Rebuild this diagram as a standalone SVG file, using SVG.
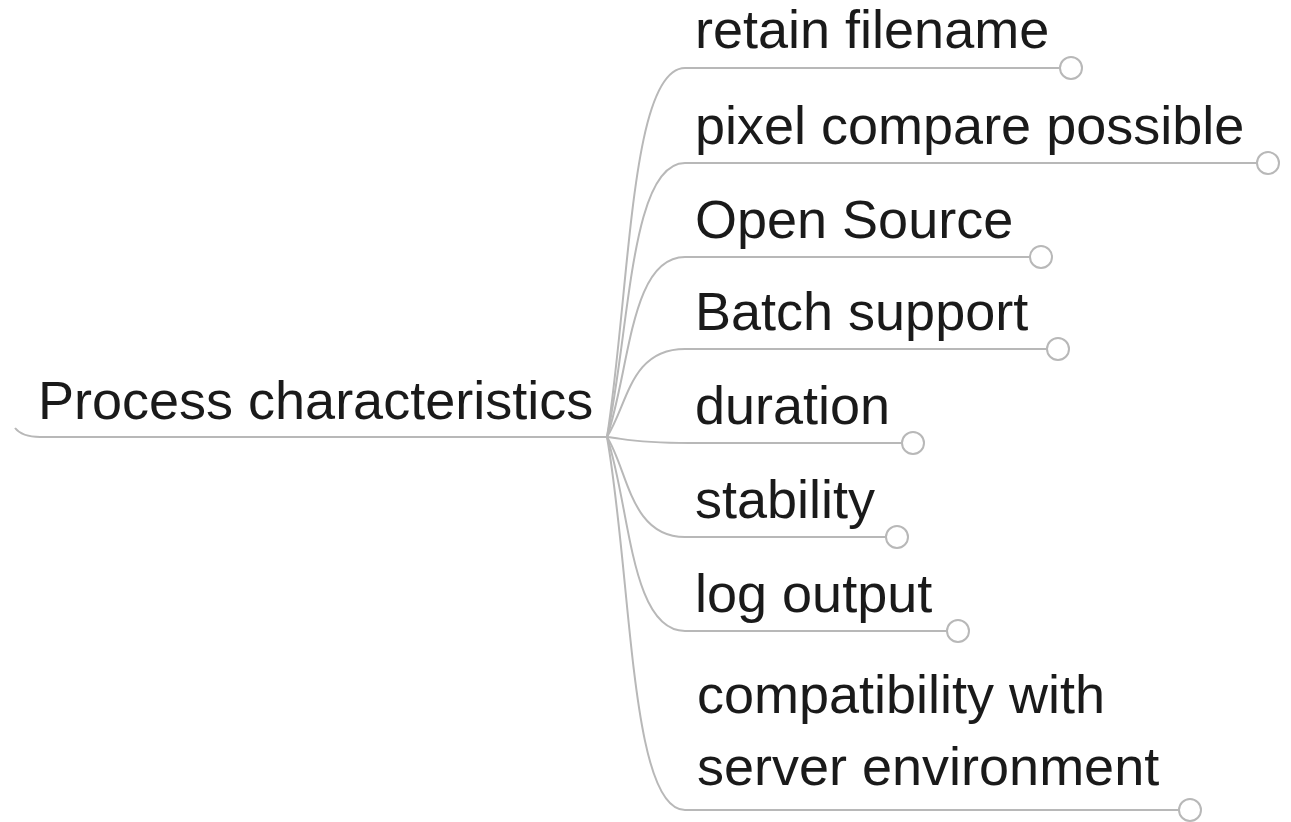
<svg xmlns="http://www.w3.org/2000/svg" width="1291" height="822" viewBox="0 0 1291 822">
<style>
  .t { font-family: "Liberation Sans", Arial, sans-serif; font-size: 54px; fill: #1a1a1a; }
  .c { fill: none; stroke: #b8b8b8; stroke-width: 2; }
  .k { fill: #fff; stroke: #b8b8b8; stroke-width: 2; }
</style>
<rect width="1291" height="822" fill="#fff"/>
<g id="connectors">
  <path class="c" d="M15,428 Q22,437 40,437 L607,437"/>
  <path class="c" d="M607,437 C630,290 630,68 685,68 L1060,68"/>
  <path class="c" d="M607,437 C630,330 630,163 685,163 L1257,163"/>
  <path class="c" d="M607,437 C630,370 630,257 685,257 L1030,257"/>
  <path class="c" d="M607,437 C628,404 630,349 685,349 L1047,349"/>
  <path class="c" d="M607,437 C627,439 632,443 690,443 L902,443"/>
  <path class="c" d="M607,437 C628,470 630,537 685,537 L886,537"/>
  <path class="c" d="M607,437 C630,505 630,631 685,631 L947,631"/>
  <path class="c" d="M607,437 C632,580 630,810 685,810 L1179,810"/>
</g>
<g id="root"><text class="t" x="38" y="419">Process characteristics</text></g>
<g id="n1"><text class="t" x="695" y="48">retain filename</text><circle class="k" cx="1071" cy="68" r="11"/></g>
<g id="n2"><text class="t" x="695" y="144">pixel compare possible</text><circle class="k" cx="1268" cy="163" r="11"/></g>
<g id="n3"><text class="t" x="695" y="238">Open Source</text><circle class="k" cx="1041" cy="257" r="11"/></g>
<g id="n4"><text class="t" x="695" y="330">Batch support</text><circle class="k" cx="1058" cy="349" r="11"/></g>
<g id="n5"><text class="t" x="695" y="424">duration</text><circle class="k" cx="913" cy="443" r="11"/></g>
<g id="n6"><text class="t" x="695" y="518">stability</text><circle class="k" cx="897" cy="537" r="11"/></g>
<g id="n7"><text class="t" x="695" y="612">log output</text><circle class="k" cx="958" cy="631" r="11"/></g>
<g id="n8"><text class="t" x="697" y="713">compatibility with</text><text class="t" x="697" y="785">server environment</text><circle class="k" cx="1190" cy="810" r="11"/></g>
</svg>
